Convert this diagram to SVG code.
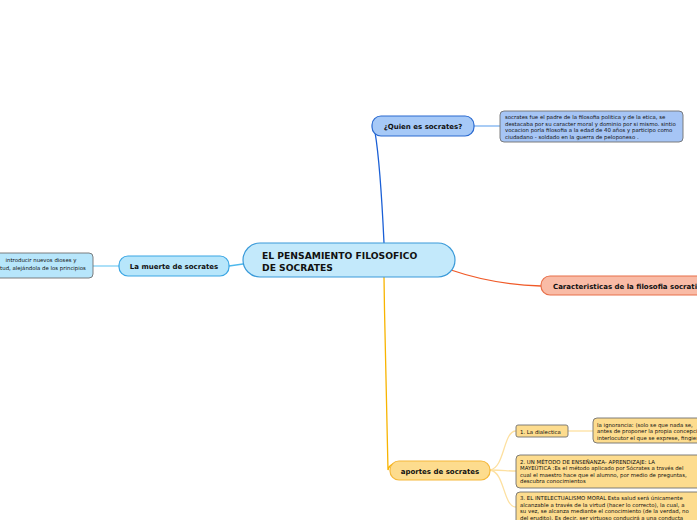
<svg xmlns="http://www.w3.org/2000/svg" width="697" height="520" viewBox="0 0 697 520">
<style>
text{font-family:"DejaVu Sans","Liberation Sans",sans-serif;fill:#111}
.t{font-weight:bold;font-size:7px}
.s{font-size:5.4px}
.c{fill:none;stroke-width:1.3}
.info{stroke:#707070;stroke-width:0.9}
</style>
<rect width="697" height="520" fill="#fff"/>
<g id="connectors">
<path class="c" d="M384,243 C382,200 378,150 375,132 Q376,127 380,126" stroke="#1a5fd6"/>
<path class="c" d="M474,126 L500,126" stroke="#7ab0f0" stroke-width="1"/>
<path class="c" d="M243,264 L229,266" stroke="#4db8ec"/>
<path class="c" d="M93,266 L119,266" stroke="#7fd0f4" stroke-width="1"/>
<path class="c" d="M451,270 C480,280 510,285 541,286" stroke="#f05a28"/>
<path class="c" d="M384,277 C385,350 387,430 388,470 Q389,465 394,464" stroke="#f8b400"/>
<path class="c" d="M490,470 C505,468 503,431 516,431" stroke="#fde0a0" stroke-width="1"/>
<path class="c" d="M490,470 C505,470 505,471 516,471" stroke="#fde0a0" stroke-width="1"/>
<path class="c" d="M490,470 C505,472 503,507 516,507" stroke="#fde0a0" stroke-width="1"/>
<path class="c" d="M568,431 L593,431" stroke="#fde0a0" stroke-width="1"/>
</g>
<g id="center">
<rect x="243" y="243" width="212" height="34" rx="17" fill="#c3e9fb" stroke="#3a9ad9" stroke-width="1.2"/>
<text x="262" y="259" style="font-weight:bold;font-size:9.2px">EL PENSAMIENTO FILOSOFICO</text>
<text x="262" y="270.5" style="font-weight:bold;font-size:9.2px">DE SOCRATES</text>
</g>
<g id="quien">
<rect x="372" y="116" width="102" height="20" rx="9" fill="#a6c9f7" stroke="#2a6ad0" stroke-width="1.2"/>
<text class="t" x="423" y="129" text-anchor="middle">¿Quien es socrates?</text>
</g>
<g id="quien-info">
<rect x="500" y="111" width="183" height="31" rx="4" fill="#a6c5f5" class="info"/>
<text class="s" x="505" y="119">socrates fue el padre de la filosofia politica y de la etica, se</text>
<text class="s" x="505" y="125.5">destacaba por su caracter moral y dominio por si mismo. sintio</text>
<text class="s" x="505" y="132">vocacion porla filosofia a la edad de 40 años y participo como</text>
<text class="s" x="505" y="138.5">ciudadano - soldado en la guerra de peloponeso .</text>
</g>
<g id="muerte">
<rect x="119" y="256" width="110" height="20" rx="9" fill="#b7e6fb" stroke="#3aa6e4" stroke-width="1.2"/>
<text class="t" x="174" y="269" text-anchor="middle">La muerte de socrates</text>
</g>
<g id="muerte-info">
<rect x="-10" y="253" width="103" height="25" rx="4" fill="#b7e6fb" class="info"/>
<text class="s" x="41" y="262" text-anchor="middle">introducir nuevos dioses y</text>
<text class="s" x="43" y="269.5" text-anchor="middle">tud, alejándola de los principios</text>
</g>
<g id="caracteristicas">
<rect x="541" y="276" width="170" height="19" rx="9" fill="#f9bba6" stroke="#e8704a" stroke-width="1.2"/>
<text class="t" x="553" y="288.5">Caracteristicas de la filosofia socratica</text>
</g>
<g id="aportes">
<rect x="390" y="461" width="100" height="19" rx="9" fill="#fddc8e" stroke="#f5b83a" stroke-width="1.2"/>
<text class="t" x="440" y="473.5" text-anchor="middle">aportes de socrates</text>
</g>
<g id="dialectica">
<rect x="516" y="425" width="52" height="12" rx="2" fill="#fddc8e" class="info"/>
<text class="s" x="520" y="433.5">1.  La dialectica</text>
</g>
<g id="ignorancia">
<rect x="593" y="418" width="115" height="25" rx="4" fill="#fddc8e" class="info"/>
<text class="s" x="597" y="426.5">la ignorancia:  (solo se que nada se,</text>
<text class="s" x="597" y="433">antes de proponer la propia concepcion</text>
<text class="s" x="597" y="439.5">interlocutor el que se exprese, fingiendo</text>
</g>
<g id="mayeutica">
<rect x="516" y="455" width="190" height="33" rx="4" fill="#fddc8e" class="info"/>
<text class="s" x="520" y="463.5">2. UN MÉTODO DE ENSEÑANZA- APRENDIZAJE: LA</text>
<text class="s" x="520" y="470">MAYEÚTICA :Es el método aplicado por Sócrates a través del</text>
<text class="s" x="520" y="476.5">cual el maestro hace que el alumno, por medio de preguntas,</text>
<text class="s" x="520" y="483">descubra conocimientos</text>
</g>
<g id="intelectualismo">
<rect x="516" y="492" width="190" height="34" rx="4" fill="#fddc8e" class="info"/>
<text class="s" x="520" y="500">3. EL INTELECTUALISMO MORAL Esta salud será únicamente</text>
<text class="s" x="520" y="506.5">alcanzable a través de la virtud (hacer lo correcto), la cual, a</text>
<text class="s" x="520" y="513">su vez, se alcanza mediante el conocimiento (de la verdad, no</text>
<text class="s" x="520" y="519.5">del erudito). Es decir, ser virtuoso conducirá a una conducta</text>
</g>
</svg>
